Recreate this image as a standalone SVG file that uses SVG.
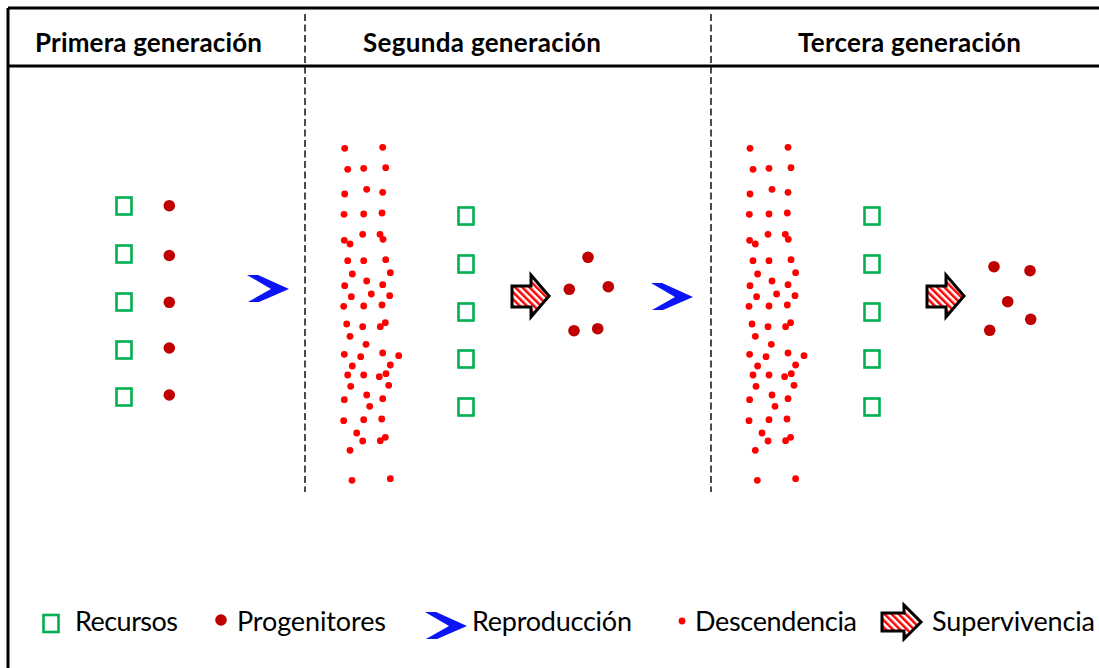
<svg xmlns="http://www.w3.org/2000/svg" xmlns:xlink="http://www.w3.org/1999/xlink" width="1099" height="668" viewBox="0 0 1099 668">
<style>
.frame{stroke:#000;stroke-width:3;fill:none}
.dash{stroke:#111;stroke-width:1.5;stroke-dasharray:7 3.5;fill:none}
.hdr{font-family:Lato,"Open Sans",sans-serif;font-weight:bold;font-size:26px;fill:#000}
.leg{font-family:Lato,"Open Sans",sans-serif;font-size:27px;fill:#000}
.res{fill:none;stroke:#00B050;stroke-width:2.6}
.prog{fill:#C00000}
.desc{fill:#FF0000}
.chev{fill:#0A14F5}
.surv{fill:url(#stripes);stroke:#000;stroke-width:3;stroke-linejoin:miter}
</style>
<defs>
<pattern id="stripes" width="5" height="5" patternUnits="userSpaceOnUse" patternTransform="rotate(-45)">
<rect width="5" height="5" fill="#fff"/>
<rect width="2.5" height="5" fill="#FF0000"/>
</pattern>
<path id="chevron" d="M247,275 L258,275 L289,289 L259,302 L248,302 L271,289 Z"/>
<path id="arrow" d="M512,286 L531,286 L531,275 L549,296 L531,317 L531,307 L512,307 Z"/>
<g id="cloud">
<circle cx="344.7" cy="148.3" r="3.4"/><circle cx="382.7" cy="147.3" r="3.4"/><circle cx="347.7" cy="169.3" r="3.4"/><circle cx="363.7" cy="168.3" r="3.4"/><circle cx="385.7" cy="167.7" r="3.4"/>
<circle cx="344.7" cy="194" r="3.4"/><circle cx="366.7" cy="189.3" r="3.4"/><circle cx="382.7" cy="192.3" r="3.4"/><circle cx="344" cy="214.3" r="3.4"/><circle cx="363.7" cy="214" r="3.4"/>
<circle cx="382" cy="213" r="3.4"/><circle cx="344.3" cy="240.3" r="3.4"/><circle cx="350" cy="244" r="3.4"/><circle cx="362.7" cy="234.3" r="3.4"/><circle cx="380" cy="234.3" r="3.4"/>
<circle cx="383" cy="239.3" r="3.4"/><circle cx="347.7" cy="260.7" r="3.4"/><circle cx="363.7" cy="260.7" r="3.4"/><circle cx="385.7" cy="259.7" r="3.4"/><circle cx="352.3" cy="274" r="3.4"/>
<circle cx="390.3" cy="272.7" r="3.4"/><circle cx="344.7" cy="285.7" r="3.4"/><circle cx="366.7" cy="281" r="3.4"/><circle cx="382.7" cy="284.7" r="3.4"/><circle cx="351.3" cy="296.7" r="3.4"/>
<circle cx="371.3" cy="294" r="3.4"/><circle cx="389.7" cy="295.7" r="3.4"/><circle cx="343.7" cy="306.3" r="3.4"/><circle cx="363.7" cy="306" r="3.4"/><circle cx="382" cy="305" r="3.4"/>
<circle cx="346.7" cy="324" r="3.4"/><circle cx="362.7" cy="326.7" r="3.4"/><circle cx="380.3" cy="326.7" r="3.4"/><circle cx="385.3" cy="322.7" r="3.4"/><circle cx="350" cy="336.3" r="3.4"/>
<circle cx="366" cy="344.3" r="3.4"/><circle cx="344.3" cy="354.3" r="3.4"/><circle cx="360.7" cy="356.7" r="3.4"/><circle cx="382.7" cy="353" r="3.4"/><circle cx="398.7" cy="355.7" r="3.4"/>
<circle cx="352.3" cy="366" r="3.4"/><circle cx="390.3" cy="365" r="3.4"/><circle cx="347.7" cy="375" r="3.4"/><circle cx="363.7" cy="375" r="3.4"/><circle cx="379.3" cy="376.7" r="3.4"/>
<circle cx="386" cy="373.7" r="3.4"/><circle cx="350.7" cy="386.3" r="3.4"/><circle cx="388.7" cy="385.3" r="3.4"/><circle cx="344.3" cy="399.7" r="3.4"/><circle cx="366.7" cy="395" r="3.4"/>
<circle cx="382.7" cy="398.7" r="3.4"/><circle cx="369.7" cy="406.3" r="3.4"/><circle cx="343.7" cy="420.7" r="3.4"/><circle cx="363.7" cy="419.7" r="3.4"/><circle cx="381.7" cy="419" r="3.4"/>
<circle cx="356.7" cy="433" r="3.4"/><circle cx="362.7" cy="441" r="3.4"/><circle cx="380.3" cy="440.7" r="3.4"/><circle cx="385.3" cy="437.3" r="3.4"/><circle cx="350" cy="450.3" r="3.4"/>
<circle cx="352" cy="480.3" r="3.4"/><circle cx="390.3" cy="478.7" r="3.4"/>
</g>
</defs>
<rect width="1099" height="668" fill="#fff"/>

<g id="frame">
<path class="frame" d="M8,8 H1099 M8,8 V668 M8,66 H1099"/>
<path class="dash" d="M305,14 V492 M711,14 V492"/>
</g>

<g id="headers">
<text class="hdr" x="35" y="52" textLength="227">Primera generación</text>
<text class="hdr" x="363" y="52" textLength="238">Segunda generación</text>
<text class="hdr" x="798" y="52" textLength="223">Tercera generación</text>
</g>

<g id="gen1">
<rect class="res" x="116.5" y="197.5" width="15" height="17"/>
<rect class="res" x="116.5" y="245.5" width="15" height="17"/>
<rect class="res" x="116.5" y="293.5" width="15" height="17"/>
<rect class="res" x="116.5" y="341.5" width="15" height="17"/>
<rect class="res" x="116.5" y="388.5" width="15" height="17"/>
<circle class="prog" cx="169.3" cy="205.7" r="5.8"/>
<circle class="prog" cx="169.3" cy="255.5" r="5.8"/>
<circle class="prog" cx="169.3" cy="302.3" r="5.8"/>
<circle class="prog" cx="169.3" cy="348" r="5.8"/>
<circle class="prog" cx="169.3" cy="395" r="5.8"/>
</g>

<g id="reproduccion-1">
<use xlink:href="#chevron" class="chev"/>
</g>

<g id="gen2">
<use xlink:href="#cloud" class="desc"/>
<rect class="res" x="458.5" y="207.5" width="15" height="17"/>
<rect class="res" x="458.5" y="255.5" width="15" height="17"/>
<rect class="res" x="458.5" y="303.5" width="15" height="17"/>
<rect class="res" x="458.5" y="350.5" width="15" height="17"/>
<rect class="res" x="458.5" y="398.5" width="15" height="17"/>
</g>

<g id="supervivencia-1">
<use xlink:href="#arrow" class="surv"/>
<circle class="prog" cx="588" cy="257.3" r="5.8"/>
<circle class="prog" cx="569.3" cy="289.3" r="5.8"/>
<circle class="prog" cx="608.3" cy="286.7" r="5.8"/>
<circle class="prog" cx="574" cy="330.7" r="5.8"/>
<circle class="prog" cx="597.7" cy="328.7" r="5.8"/>
</g>

<g id="reproduccion-2">
<use xlink:href="#chevron" class="chev" transform="translate(404,8)"/>
</g>

<g id="gen3">
<use xlink:href="#cloud" class="desc" transform="translate(405.3,0)"/>
<rect class="res" x="864.5" y="207.5" width="15" height="17"/>
<rect class="res" x="864.5" y="255.5" width="15" height="17"/>
<rect class="res" x="864.5" y="303.5" width="15" height="17"/>
<rect class="res" x="864.5" y="350.5" width="15" height="17"/>
<rect class="res" x="864.5" y="398.5" width="15" height="17"/>
</g>

<g id="supervivencia-2">
<use xlink:href="#arrow" class="surv" transform="translate(415,0)"/>
<circle class="prog" cx="994" cy="266.7" r="5.8"/>
<circle class="prog" cx="1030" cy="270.7" r="5.8"/>
<circle class="prog" cx="1007.7" cy="301.7" r="5.8"/>
<circle class="prog" cx="1030.7" cy="319.3" r="5.8"/>
<circle class="prog" cx="989.7" cy="330.3" r="5.8"/>
</g>

<g id="legend">
<rect class="res" x="43.5" y="615" width="15" height="17"/>
<text class="leg" x="75" y="631" textLength="103">Recursos</text>
<circle class="prog" cx="221" cy="620" r="5.8"/>
<text class="leg" x="237" y="631" textLength="149">Progenitores</text>
<use xlink:href="#chevron" class="chev" transform="translate(178,337)"/>
<text class="leg" x="472" y="631" textLength="160">Reproducción</text>
<circle class="desc" cx="682" cy="621" r="3.4"/>
<text class="leg" x="695" y="631" textLength="162">Descendencia</text>
<path class="surv" d="M882,613 L904,613 L904,605 L921,622 L904,639 L904,631 L882,631 Z"/>
<text class="leg" x="932" y="631" textLength="163">Supervivencia</text>
</g>
</svg>
